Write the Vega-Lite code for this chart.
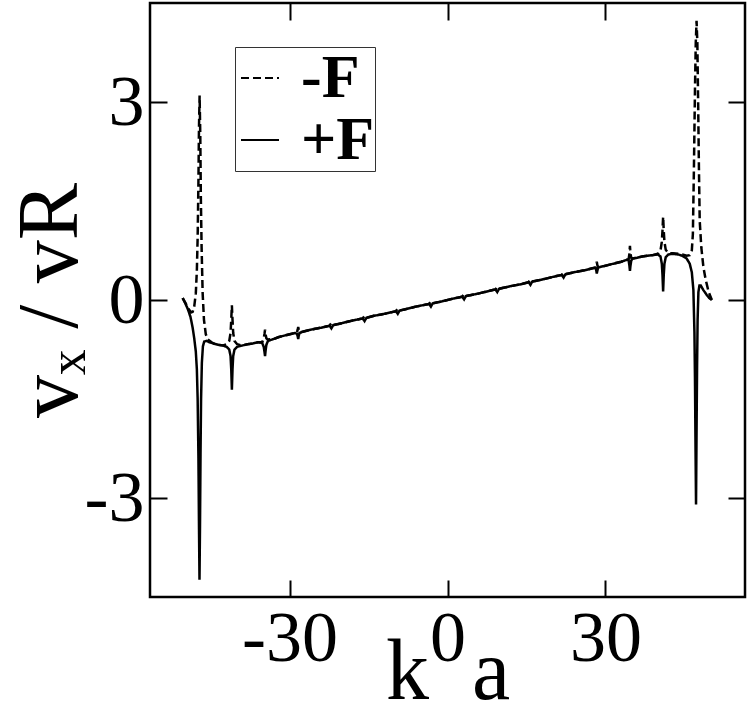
{
"$schema":"https://vega.github.io/schema/vega-lite/v6.json",
"width":595,"height":594,"autosize":{"type":"none"},
"padding":{"left":150,"top":3,"right":4,"bottom":116},
"background":"white",
"config":{"view":{"stroke":"black","strokeWidth":2.5},
"axis":{"domain":false,"grid":false,"tickColor":"black","tickWidth":2,"tickSize":-17,"labelFont":"Liberation Serif","labelFontSize":72,"labelColor":"black","titleFont":"Liberation Serif","titleFontSize":86,"titleFontWeight":"normal","titleColor":"black","labelPadding":23}},
"datasets":{"plus":[
{"ka":-50.3,"v":0.03},{"ka":-49.8,"v":-0.05},{"ka":-49.3,"v":-0.14},{"ka":-48.8,"v":-0.26},{"ka":-48.4,"v":-0.42},{"ka":-48.1,"v":-0.58},{"ka":-47.8,"v":-0.78},{"ka":-47.6,"v":-1.05},{"ka":-47.45,"v":-1.5},{"ka":-47.3,"v":-2.4},{"ka":-47.2,"v":-3.4},{"ka":-47.1,"v":-4.24},{"ka":-47.0,"v":-3.4},{"ka":-46.9,"v":-2.3},{"ka":-46.8,"v":-1.5},{"ka":-46.65,"v":-0.95},{"ka":-46.45,"v":-0.7},{"ka":-46.2,"v":-0.63},{"ka":-45.8,"v":-0.62},{"ka":-45.2,"v":-0.64},{"ka":-44.4,"v":-0.66},{"ka":-43.5,"v":-0.68},{"ka":-42.6,"v":-0.69},{"ka":-41.95,"v":-0.71},{"ka":-41.45,"v":-0.75},{"ka":-41.2,"v":-0.85},{"ka":-41.07,"v":-1.05},{"ka":-40.95,"v":-1.36},{"ka":-40.83,"v":-1.05},{"ka":-40.7,"v":-0.85},{"ka":-40.45,"v":-0.75},{"ka":-39.95,"v":-0.71},{"ka":-39.0,"v":-0.69},{"ka":-38.0,"v":-0.67},{"ka":-37.0,"v":-0.66},{"ka":-36.0,"v":-0.64},{"ka":-35.2,"v":-0.65},{"ka":-34.9,"v":-0.71},{"ka":-34.75,"v":-0.79},{"ka":-34.65,"v":-0.85},{"ka":-34.55,"v":-0.77},{"ka":-34.4,"v":-0.68},{"ka":-34.1,"v":-0.62},{"ka":-33.0,"v":-0.59},{"ka":-32.0,"v":-0.56},{"ka":-31.0,"v":-0.54},{"ka":-30.0,"v":-0.52},{"ka":-29.0,"v":-0.5},{"ka":-28.6,"v":-0.51},{"ka":-28.45,"v":-0.55},{"ka":-28.35,"v":-0.59},{"ka":-28.25,"v":-0.54},{"ka":-28.1,"v":-0.5},{"ka":-27.5,"v":-0.48},{"ka":-26.0,"v":-0.45},{"ka":-24.0,"v":-0.42},{"ka":-22.4,"v":-0.39},{"ka":-22.05,"v":-0.43},{"ka":-21.7,"v":-0.38},{"ka":-20.0,"v":-0.35},{"ka":-18.0,"v":-0.31},{"ka":-16.1,"v":-0.28},{"ka":-15.75,"v":-0.32},{"ka":-15.4,"v":-0.27},{"ka":-14.0,"v":-0.24},{"ka":-12.0,"v":-0.21},{"ka":-9.8,"v":-0.17},{"ka":-9.45,"v":-0.21},{"ka":-9.1,"v":-0.16},{"ka":-8.0,"v":-0.14},{"ka":-6.0,"v":-0.1},{"ka":-3.5,"v":-0.06},{"ka":-3.15,"v":-0.1},{"ka":-2.8,"v":-0.05},{"ka":-1.0,"v":-0.02},{"ka":0,"v":0.0},{"ka":1.0,"v":0.02},{"ka":2.8,"v":0.05},{"ka":3.15,"v":0.01},{"ka":3.5,"v":0.06},{"ka":6.0,"v":0.1},{"ka":8.0,"v":0.14},{"ka":9.1,"v":0.16},{"ka":9.45,"v":0.12},{"ka":9.8,"v":0.17},{"ka":12.0,"v":0.21},{"ka":14.0,"v":0.24},{"ka":15.4,"v":0.27},{"ka":15.75,"v":0.23},{"ka":16.1,"v":0.28},{"ka":18.0,"v":0.31},{"ka":20.0,"v":0.35},{"ka":21.7,"v":0.38},{"ka":22.05,"v":0.34},{"ka":22.4,"v":0.39},{"ka":24.0,"v":0.42},{"ka":26.0,"v":0.45},{"ka":27.5,"v":0.48},{"ka":28.1,"v":0.49},{"ka":28.25,"v":0.45},{"ka":28.35,"v":0.4},{"ka":28.45,"v":0.44},{"ka":28.6,"v":0.49},{"ka":29.0,"v":0.5},{"ka":30.0,"v":0.52},{"ka":31.0,"v":0.54},{"ka":32.0,"v":0.56},{"ka":33.0,"v":0.58},{"ka":34.1,"v":0.61},{"ka":34.4,"v":0.6},{"ka":34.55,"v":0.52},{"ka":34.65,"v":0.44},{"ka":34.75,"v":0.52},{"ka":34.9,"v":0.6},{"ka":35.2,"v":0.63},{"ka":36.0,"v":0.64},{"ka":37.0,"v":0.66},{"ka":38.0,"v":0.67},{"ka":39.0,"v":0.68},{"ka":39.95,"v":0.69},{"ka":40.45,"v":0.66},{"ka":40.7,"v":0.55},{"ka":40.83,"v":0.38},{"ka":40.95,"v":0.13},{"ka":41.07,"v":0.38},{"ka":41.2,"v":0.55},{"ka":41.45,"v":0.65},{"ka":41.95,"v":0.69},{"ka":42.8,"v":0.7},{"ka":43.8,"v":0.69},{"ka":44.6,"v":0.67},{"ka":45.4,"v":0.63},{"ka":46.0,"v":0.55},{"ka":46.4,"v":0.42},{"ka":46.7,"v":0.15},{"ka":46.9,"v":-0.5},{"ka":47.0,"v":-1.2},{"ka":47.1,"v":-2.2},{"ka":47.2,"v":-3.1},{"ka":47.3,"v":-2.0},{"ka":47.4,"v":-1.0},{"ka":47.5,"v":-0.3},{"ka":47.65,"v":0.12},{"ka":47.85,"v":0.22},{"ka":48.1,"v":0.22},{"ka":48.6,"v":0.15},{"ka":49.2,"v":0.08},{"ka":49.7,"v":0.03},{"ka":50.2,"v":0.0}
],
"minus":[
{"ka":-50.3,"v":0.03},{"ka":-49.8,"v":-0.04},{"ka":-49.2,"v":-0.13},{"ka":-48.7,"v":-0.19},{"ka":-48.4,"v":-0.18},{"ka":-48.1,"v":-0.1},{"ka":-47.8,"v":0.1},{"ka":-47.6,"v":0.45},{"ka":-47.45,"v":0.95},{"ka":-47.3,"v":1.8},{"ka":-47.2,"v":2.6},{"ka":-47.08,"v":3.1},{"ka":-46.95,"v":2.5},{"ka":-46.85,"v":1.6},{"ka":-46.7,"v":0.8},{"ka":-46.5,"v":0.1},{"ka":-46.25,"v":-0.3},{"ka":-45.9,"v":-0.52},{"ka":-45.5,"v":-0.6},{"ka":-44.8,"v":-0.64},{"ka":-44.4,"v":-0.66},{"ka":-43.5,"v":-0.68},{"ka":-42.6,"v":-0.69},{"ka":-41.95,"v":-0.67},{"ka":-41.45,"v":-0.62},{"ka":-41.2,"v":-0.5},{"ka":-41.07,"v":-0.3},{"ka":-40.95,"v":-0.08},{"ka":-40.83,"v":-0.3},{"ka":-40.7,"v":-0.5},{"ka":-40.45,"v":-0.62},{"ka":-39.95,"v":-0.67},{"ka":-39.0,"v":-0.69},{"ka":-38.0,"v":-0.67},{"ka":-37.0,"v":-0.66},{"ka":-36.0,"v":-0.64},{"ka":-35.2,"v":-0.64},{"ka":-34.9,"v":-0.58},{"ka":-34.75,"v":-0.51},{"ka":-34.65,"v":-0.45},{"ka":-34.55,"v":-0.52},{"ka":-34.4,"v":-0.58},{"ka":-34.1,"v":-0.6},{"ka":-33.0,"v":-0.59},{"ka":-32.0,"v":-0.56},{"ka":-31.0,"v":-0.54},{"ka":-30.0,"v":-0.52},{"ka":-29.0,"v":-0.5},{"ka":-28.6,"v":-0.49},{"ka":-28.45,"v":-0.45},{"ka":-28.35,"v":-0.41},{"ka":-28.25,"v":-0.45},{"ka":-28.1,"v":-0.49},{"ka":-27.5,"v":-0.48},{"ka":-26.0,"v":-0.45},{"ka":-24.0,"v":-0.42},{"ka":-22.4,"v":-0.39},{"ka":-22.05,"v":-0.35},{"ka":-21.7,"v":-0.38},{"ka":-20.0,"v":-0.35},{"ka":-18.0,"v":-0.31},{"ka":-16.1,"v":-0.28},{"ka":-15.75,"v":-0.24},{"ka":-15.4,"v":-0.27},{"ka":-14.0,"v":-0.24},{"ka":-12.0,"v":-0.21},{"ka":-9.8,"v":-0.17},{"ka":-9.45,"v":-0.13},{"ka":-9.1,"v":-0.16},{"ka":-8.0,"v":-0.14},{"ka":-6.0,"v":-0.1},{"ka":-3.5,"v":-0.06},{"ka":-3.15,"v":-0.02},{"ka":-2.8,"v":-0.05},{"ka":-1.0,"v":-0.02},{"ka":0,"v":0.0},{"ka":1.0,"v":0.02},{"ka":2.8,"v":0.05},{"ka":3.15,"v":0.09},{"ka":3.5,"v":0.06},{"ka":6.0,"v":0.1},{"ka":8.0,"v":0.14},{"ka":9.1,"v":0.16},{"ka":9.45,"v":0.2},{"ka":9.8,"v":0.17},{"ka":12.0,"v":0.21},{"ka":14.0,"v":0.24},{"ka":15.4,"v":0.27},{"ka":15.75,"v":0.31},{"ka":16.1,"v":0.28},{"ka":18.0,"v":0.31},{"ka":20.0,"v":0.35},{"ka":21.7,"v":0.38},{"ka":22.05,"v":0.42},{"ka":22.4,"v":0.39},{"ka":24.0,"v":0.42},{"ka":26.0,"v":0.45},{"ka":27.5,"v":0.48},{"ka":28.1,"v":0.49},{"ka":28.25,"v":0.53},{"ka":28.35,"v":0.58},{"ka":28.45,"v":0.53},{"ka":28.6,"v":0.5},{"ka":29.0,"v":0.5},{"ka":30.0,"v":0.52},{"ka":31.0,"v":0.54},{"ka":32.0,"v":0.56},{"ka":33.0,"v":0.58},{"ka":34.1,"v":0.61},{"ka":34.4,"v":0.62},{"ka":34.55,"v":0.7},{"ka":34.65,"v":0.82},{"ka":34.75,"v":0.7},{"ka":34.9,"v":0.64},{"ka":35.2,"v":0.63},{"ka":36.0,"v":0.64},{"ka":37.0,"v":0.66},{"ka":38.0,"v":0.67},{"ka":39.0,"v":0.68},{"ka":39.95,"v":0.7},{"ka":40.45,"v":0.75},{"ka":40.7,"v":0.88},{"ka":40.83,"v":1.05},{"ka":40.95,"v":1.26},{"ka":41.07,"v":1.05},{"ka":41.2,"v":0.88},{"ka":41.45,"v":0.76},{"ka":41.95,"v":0.71},{"ka":42.8,"v":0.71},{"ka":43.8,"v":0.7},{"ka":44.6,"v":0.69},{"ka":45.4,"v":0.67},{"ka":46.0,"v":0.68},{"ka":46.4,"v":0.75},{"ka":46.6,"v":1.0},{"ka":46.8,"v":2.0},{"ka":47.0,"v":3.2},{"ka":47.15,"v":3.9},{"ka":47.3,"v":4.23},{"ka":47.45,"v":3.9},{"ka":47.6,"v":3.0},{"ka":47.75,"v":2.0},{"ka":47.9,"v":1.2},{"ka":48.2,"v":0.8},{"ka":48.6,"v":0.5},{"ka":49.0,"v":0.32},{"ka":49.6,"v":0.12},{"ka":50.2,"v":0.0}
]},
"layer":[
{"data":{"name":"minus"},"transform":[{"calculate":"'-F'","as":"s"}],
 "mark":{"type":"line","strokeWidth":2.5,"color":"black"},
 "encoding":{
  "x":{"field":"ka","type":"quantitative","scale":{"domain":[-56.5,56.5],"nice":false,"zero":false},"axis":{"orient":"bottom","values":[-30,0,30],"labelExpr":"'' + datum.value","title":"k\u2002a","titlePadding":-44}},
  "y":{"field":"v","type":"quantitative","scale":{"domain":[-4.5,4.5],"nice":false,"zero":false},"axis":{"orient":"left","values":[-3,0,3],"labelExpr":"'' + datum.value","title":"vₓ / vR","titlePadding":-10}},
  "strokeDash":{"field":"s","type":"nominal","scale":{"domain":["-F","+F"],"range":[[8,4],[1,0]]},
   "legend":{"title":null,"orient":"none","legendX":85,"legendY":44,"strokeColor":"#333","padding":0,"symbolType":"stroke","symbolSize":1444,"symbolOffset":-6,"symbolStrokeWidth":2,"symbolStrokeColor":"black","labelFont":"Liberation Serif","labelFontSize":62,"labelFontWeight":"bold","labelColor":"black","labelOffset":10,"labelExpr":"datum.label + ' '","rowPadding":0}}
 }},
{"data":{"name":"plus"},"transform":[{"calculate":"'+F'","as":"s"}],
 "mark":{"type":"line","strokeWidth":2.5,"color":"black"},
 "encoding":{
  "x":{"field":"ka","type":"quantitative","axis":null},
  "y":{"field":"v","type":"quantitative","axis":null},
  "strokeDash":{"field":"s","type":"nominal"}
 }},
{"data":{"name":"plus"},
 "mark":{"type":"point","opacity":0},
 "encoding":{
  "x":{"field":"ka","type":"quantitative","axis":{"orient":"top","values":[-30,0,30],"labels":false,"title":null}},
  "y":{"field":"v","type":"quantitative","axis":{"orient":"right","values":[-3,0,3],"labels":false,"title":null}}
 }}
],
"resolve":{"axis":{"x":"independent","y":"independent"}}
}
